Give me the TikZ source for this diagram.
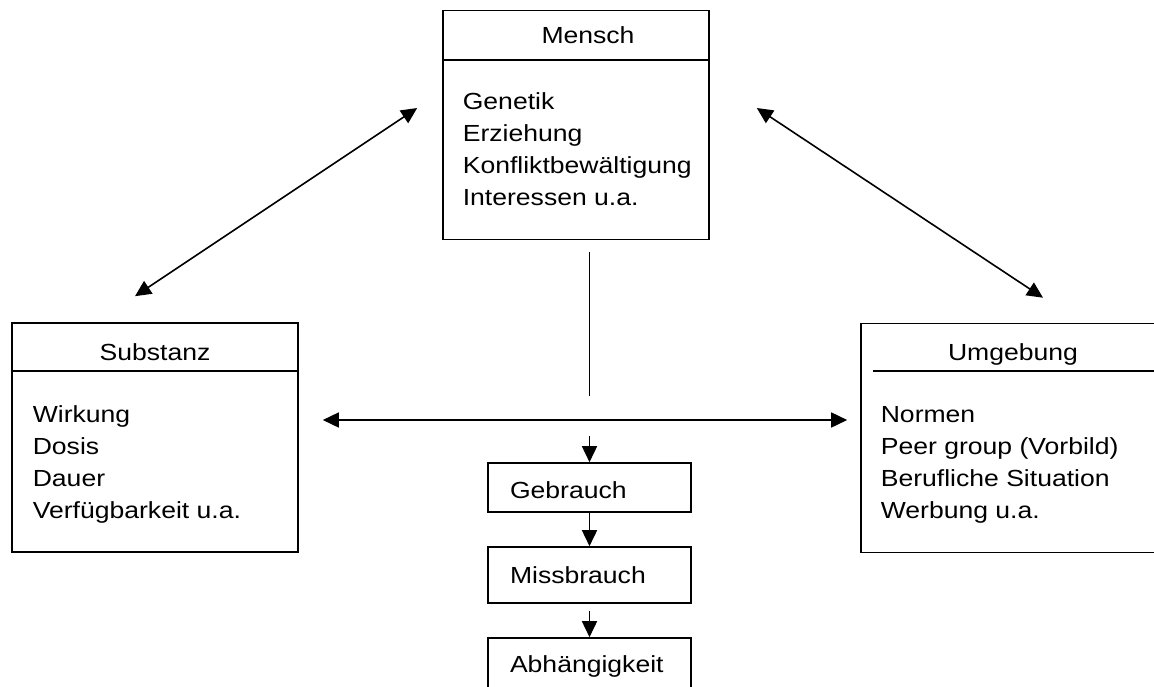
\documentclass[tikz,border=0pt]{standalone}
\usepackage{fontspec}
\setmainfont{Liberation Sans}[FakeStretch=1.14]
\usetikzlibrary{arrows.meta}

\begin{document}
\begin{tikzpicture}[x=1pt, y=-1pt, line width=1.6pt,
  font=\fontsize{23.3}{32}\selectfont, >={Triangle[length=16pt, width=15pt]},
  frame/.style={draw, minimum width=#1, minimum height=229pt, inner sep=0pt},
  head/.style={anchor=base, inner sep=0pt},
  list/.style={anchor=north west, align=left, inner sep=0pt},
  stage/.style={draw, minimum width=203pt, minimum height=#1, text width=159pt,
    align=left, inner xsep=22pt, inner ysep=0pt},
  stage/.default=56pt]
\path[use as bounding box, clip] (0,0) rectangle (1154,686);
\node[frame=266pt] (mensch)   at (576,125)    {};
\node[frame=286pt] (substanz) at (155,437.5)  {};
\node[frame=314pt] (umgebung) at (1018,438)   {};
\draw (mensch.west |- 0,60) -- (mensch.east |- 0,60);
\draw (substanz.west |- 0,371) -- (substanz.east |- 0,371);
\draw (873,371) -- (umgebung.east |- 0,371);
\node[head] (menschkopf)   at (588,43)  {Mensch};
\node[head] (substanzkopf) at (155,360) {Substanz};
\node[head] (umgebungkopf) at (1013,360) {Umgebung};
\node[list] (menschliste)   at (462,92)  {Genetik\\Erziehung\\Konfliktbewältigung\\Interessen u.a.};
\node[list] (substanzliste) at (32,405)  {Wirkung\\Dosis\\Dauer\\Verfügbarkeit u.a.};
\node[list] (umgebungliste) at (880,406) {Normen\\Peer group (Vorbild)\\Berufliche Situation\\Werbung u.a.};
\node[stage=49pt, text height=23pt] (gebrauch) at (589.5,487.5) {Gebrauch};
\node[stage] (missbrauch)  at (589.5,575) {Missbrauch};
\node[stage] (abhaengig)   at (589.5,666) {Abhängigkeit};
\coordinate (mitte) at (589.5,420);
\draw[<->] ([xshift=-20pt, yshift=26pt]substanz.north) -- ([xshift=-25pt, yshift=17pt]mensch.west);
\draw[<->] ([xshift=47pt, yshift=17pt]mensch.east) -- ([xshift=25pt, yshift=25pt]umgebung.north);
\draw[shorten <=12pt, shorten >=24pt] (mitte |- mensch.south) -- (mitte);
\draw[<->, shorten <=24pt, shorten >=13pt] (substanz.east |- mitte) -- (umgebung.west |- mitte);
\draw[->, shorten <=16pt] (mitte) -- (gebrauch);
\draw[->] (gebrauch) -- (missbrauch);
\draw[->, shorten <=7pt] (missbrauch) -- (abhaengig);
\end{tikzpicture}
\end{document}
